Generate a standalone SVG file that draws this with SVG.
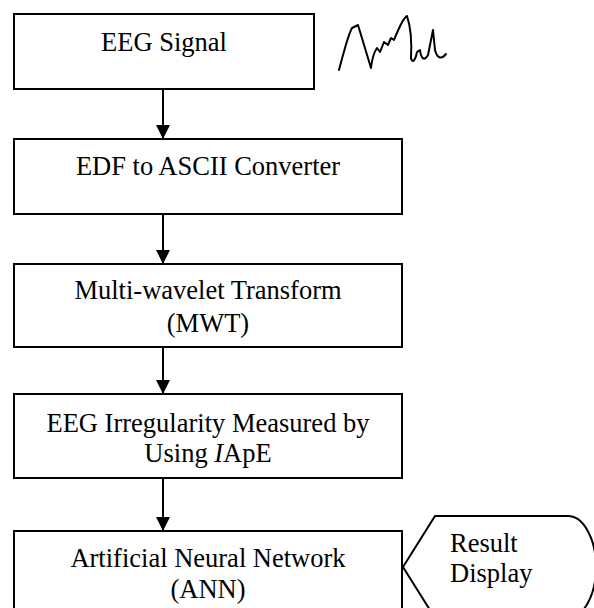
<svg xmlns="http://www.w3.org/2000/svg" width="594" height="608" viewBox="0 0 594 608">
<style>
.box{fill:#fff;stroke:#000;stroke-width:2}
.t{font-family:"Liberation Serif","Times New Roman",serif;font-size:26.5px;fill:#000}
.c{text-anchor:middle}
.conn{stroke:#000;stroke-width:2;fill:none}
</style>
<defs>
<marker id="ah" markerUnits="userSpaceOnUse" markerWidth="14" markerHeight="14" viewBox="0 0 14 14" refX="14" refY="7" orient="auto">
<path d="M0,0 L14,7 L0,14 Z" fill="#000"/>
</marker>
</defs>
<rect width="594" height="608" fill="#fff"/>
<g id="connectors">
<line class="conn" x1="163" y1="89" x2="163" y2="139" marker-end="url(#ah)"/>
<line class="conn" x1="163" y1="214" x2="163" y2="264" marker-end="url(#ah)"/>
<line class="conn" x1="163" y1="347" x2="163" y2="394" marker-end="url(#ah)"/>
<line class="conn" x1="163" y1="478" x2="163" y2="531" marker-end="url(#ah)"/>
</g>
<g id="n1">
<rect class="box" x="14" y="14" width="300" height="75"/>
<text class="t c" x="164" y="51">EEG Signal</text>
</g>
<g id="signal">
<path d="M339,70 C343,55 348,35 352,28 L358,25 C362,38 367,55 371,68 C372,60 374,52 377,48 L380,52 L384,42 L388,45 L391,38 L394,40 C398,30 403,18 407,16 C410,25 412,40 411,58 C412,63 415,62 417,52 L420,50 C421,58 424,62 428,55 L431,40 L433,30 L435,50 C437,58 441,60 446,54" fill="none" stroke="#000" stroke-width="2" stroke-linejoin="round" stroke-linecap="round"/>
</g>
<g id="n2">
<rect class="box" x="14" y="139" width="388" height="75"/>
<text class="t c" x="208" y="175">EDF to ASCII Converter</text>
</g>
<g id="n3">
<rect class="box" x="14" y="264" width="388" height="83"/>
<text class="t c" x="208" y="299">Multi-wavelet Transform</text>
<text class="t c" x="208" y="332">(MWT)</text>
</g>
<g id="n4">
<rect class="box" x="14" y="394" width="388" height="84"/>
<text class="t c" x="208" y="432">EEG Irregularity Measured by</text>
<text class="t c" x="208" y="462">Using <tspan font-style="italic">I</tspan>ApE</text>
</g>
<g id="n5">
<rect class="box" x="14" y="531" width="388" height="84"/>
<text class="t c" x="208" y="567">Artificial Neural Network</text>
<text class="t c" x="208" y="598">(ANN)</text>
</g>
<g id="n6">
<path class="box" d="M403,567 L435,516 L568,516 A28,51 0 0 1 568,618 L435,618 Z"/>
<text class="t" x="450" y="552">Result</text>
<text class="t" x="450" y="582">Display</text>
</g>
</svg>
